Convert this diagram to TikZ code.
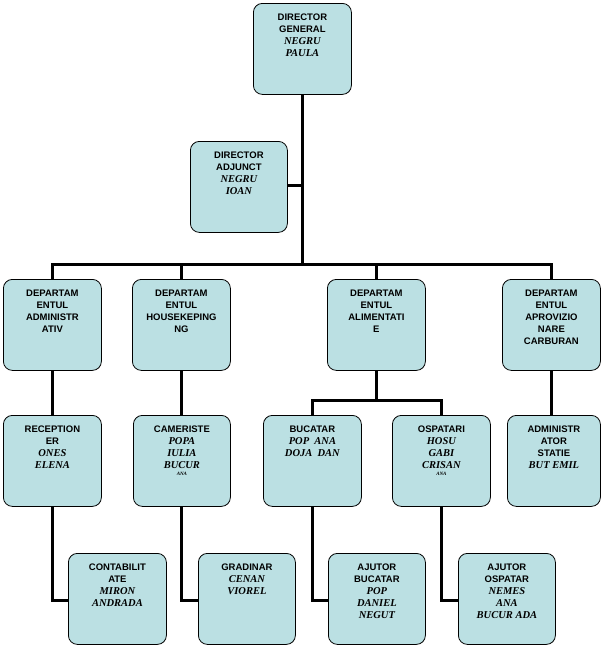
\documentclass[tikz,border=0pt]{standalone}
\usepackage{fontspec}
\setmainfont{Liberation Sans}
\newfontfamily\namefont{Liberation Serif}
\definecolor{boxc}{RGB}{187,224,227}
\tikzset{
 bx/.style={draw,line width=0.8pt,fill=boxc,rounded corners=9pt,minimum height=91pt,inner sep=0pt,anchor=north west},
 tx/.style={anchor=north,align=center,font=\bfseries\fontsize{9.5}{12}\selectfont},
 ln/.style={line width=3pt}}
\newcommand\nmtext[1]{{\namefont\itshape\fontsize{10.5}{13}\selectfont #1}}
\newcommand\mkbox[5]{\node[bx,minimum width=#3] (#1) at (#2) {};
 \node[tx] at ([yshift=-8pt]#1.north) {#4};
 \node[tx] (#1t) at ([yshift=-8pt]#1.north) {#4\\#5};}
\begin{document}
\begin{tikzpicture}[x=1pt,y=-1pt]
\path[use as bounding box] (0,0) rectangle (606,648);
\draw[ln] (302,94) -- (302,264);
\draw[ln] (287,185) -- (302,185);
\draw[ln] (52,279) -- (52,264) -- (551,264) -- (551,279);
\draw[ln] (181,264) -- (181,279);
\draw[ln] (376,264) -- (376,279);
\draw[ln] (52,369) -- (52,415);
\draw[ln] (181,369) -- (181,415);
\draw[ln] (551,369) -- (551,415);
\draw[ln] (376,369) -- (376,400);
\draw[ln] (312,415) -- (312,400) -- (441,400) -- (441,415);
\draw[ln] (52,507) -- (52,600) -- (68,600);
\draw[ln] (181,507) -- (181,600) -- (198,600);
\draw[ln] (312,507) -- (312,600) -- (328,600);
\draw[ln] (441,507) -- (441,600) -- (458,600);
\node[bx,minimum width=98pt] (dg) at (253,3) {};
\node[tx] at ([yshift=-7pt]dg.north) {DIRECTOR\\GENERAL\\\nmtext{NEGRU}\\\nmtext{PAULA}};
\node[bx,minimum width=97pt] (da) at (190,141) {};
\node[tx] at ([yshift=-7pt]da.north) {DIRECTOR\\ADJUNCT\\\nmtext{NEGRU}\\\nmtext{IOAN}};
\node[bx,minimum width=98pt] (d1) at (3,279) {};
\node[tx] at ([yshift=-7pt]d1.north) {DEPARTAM\\ENTUL\\ADMINISTR\\ATIV};
\node[bx,minimum width=98pt] (d2) at (132,279) {};
\node[tx] at ([yshift=-7pt]d2.north) {DEPARTAM\\ENTUL\\HOUSEKEPING\\NG};
\node[bx,minimum width=98pt] (d3) at (327,279) {};
\node[tx] at ([yshift=-7pt]d3.north) {DEPARTAM\\ENTUL\\ALIMENTATI\\E};
\node[bx,minimum width=98pt] (d4) at (502,279) {};
\node[tx] at ([yshift=-7pt]d4.north) {DEPARTAM\\ENTUL\\APROVIZIO\\NARE\\CARBURAN};
\node[bx,minimum width=98pt] (r) at (3,415) {};
\node[tx] at ([yshift=-7pt]r.north) {RECEPTION\\ER\\\nmtext{ONES}\\\nmtext{ELENA}};
\node[bx,minimum width=97pt] (c) at (133,415) {};
\node[tx] at ([yshift=-7pt]c.north) {CAMERISTE\\\nmtext{POPA}\\\nmtext{IULIA}\\\nmtext{BUCUR}\\[-5pt]{\namefont\itshape\fontsize{5}{5}\selectfont ANA}};
\node[bx,minimum width=98pt] (b) at (263,415) {};
\node[tx] at ([yshift=-7pt]b.north) {BUCATAR\\\nmtext{POP~~ANA}\\\nmtext{DOJA~~DAN}};
\node[bx,minimum width=98pt] (o) at (392,415) {};
\node[tx] at ([yshift=-7pt]o.north) {OSPATARI\\\nmtext{HOSU}\\\nmtext{GABI}\\\nmtext{CRISAN}\\[-5pt]{\namefont\itshape\fontsize{5}{5}\selectfont ANA}};
\node[bx,minimum width=93pt] (a) at (507,415) {};
\node[tx] at ([yshift=-7pt]a.north) {ADMINISTR\\ATOR\\STATIE\\\nmtext{BUT EMIL}};
\node[bx,minimum width=98pt] (ct) at (68,553) {};
\node[tx] at ([yshift=-7pt]ct.north) {CONTABILIT\\ATE\\\nmtext{MIRON}\\\nmtext{ANDRADA}};
\node[bx,minimum width=97pt] (g) at (198,553) {};
\node[tx] at ([yshift=-7pt]g.north) {GRADINAR\\\nmtext{CENAN}\\\nmtext{VIOREL}};
\node[bx,minimum width=97pt] (ab) at (328,553) {};
\node[tx] at ([yshift=-7pt]ab.north) {AJUTOR\\BUCATAR\\\nmtext{POP}\\\nmtext{DANIEL}\\\nmtext{NEGUT}};
\node[bx,minimum width=97pt] (ao) at (458,553) {};
\node[tx] at ([yshift=-7pt]ao.north) {AJUTOR\\OSPATAR\\\nmtext{NEMES}\\\nmtext{ANA}\\\nmtext{BUCUR ADA}};
\end{tikzpicture}
\end{document}
